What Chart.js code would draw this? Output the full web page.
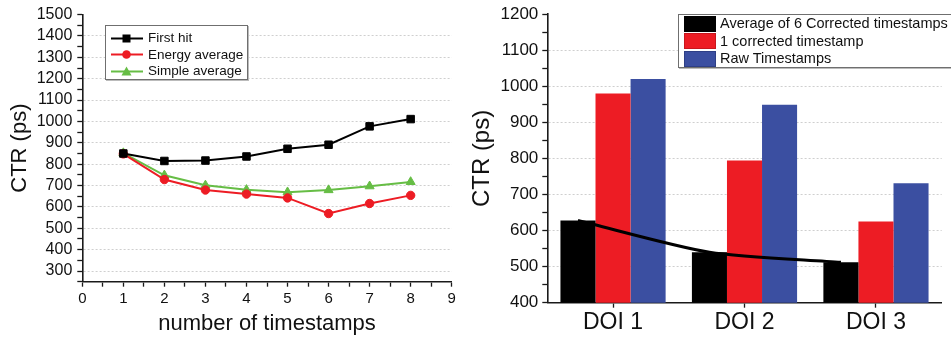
<!DOCTYPE html>
<html>
<head>
<meta charset="utf-8">
<script src="https://cdn.jsdelivr.net/npm/chart.js@4.4.1/dist/chart.umd.min.js"></script>
<style>
  html, body { margin: 0; padding: 0; background: #fff; }
  #wrap { position: relative; width: 951px; height: 338px; background: #fff; overflow: hidden; font-family: "Liberation Sans", Arial, sans-serif; }
  canvas { position: absolute; top: 0; }
  .legend { position: absolute; border: 1px solid #6f6f6f; background: #fff; box-sizing: border-box; box-shadow: 1px 1px 0 #bbb; color: #111; }
  .legend .row { display: flex; align-items: center; white-space: nowrap; }
  #leg1 { left: 105px; top: 25px; width: 143px; height: 55px; padding: 4px 0 0 4px; font-size: 13.5px; }
  #leg1 .row { height: 16.5px; line-height: 16.5px; }
  #leg1 svg { margin-right: 3px; }
  #leg2 { left: 678px; top: 14px; width: 274px; height: 54px; padding: 0 0 0 5px; font-size: 14.5px; }
  #leg2 .row { height: 17.5px; line-height: 17.5px; }
  #leg2 .sw { width: 32px; height: 16px; margin-right: 4px; box-sizing: border-box; }
</style>
</head>
<body>
<div id="wrap">
  <canvas id="c1" width="470" height="338" style="left:0px;width:470px;height:338px"></canvas>
  <canvas id="c2" width="481" height="338" style="left:470px;width:481px;height:338px"></canvas>
  <div id="leg1" class="legend"></div>
  <div id="leg2" class="legend"></div>
</div>
<script>
// ---------- data: left chart ----------
const timestampCounts = [1, 2, 3, 4, 5, 6, 7, 8];
const firstHit      = [850, 815, 817, 836, 872, 891, 977, 1011];
const energyAverage = [848, 728, 679, 660, 642, 569, 616, 654];
const simpleAverage = [852, 748, 701, 680, 669, 679, 697, 717];
const leftSeriesNames = ['First hit', 'Energy average', 'Simple average'];

// ---------- data: right chart ----------
const doiLabels = ['DOI 1', 'DOI 2', 'DOI 3'];
const avgSixCorrected = [628, 540, 512];
const oneCorrected    = [980, 794, 625];
const rawTimestamps   = [1020, 949, 731];
const rightSeriesNames = ['Average of 6 Corrected timestamps', '1 corrected timestamp', 'Raw Timestamps'];

// ---------- styles ----------
const FONT = '"Liberation Sans", Arial, sans-serif';
const BLACK = '#000000', RED = '#ED1C24', GREEN = '#66BD45', BLUE = '#3B4FA1';
const AXIS = '#1a1a1a', GRID = '#cfcfcf', TXT = '#111111';

Chart.defaults.font.family = FONT;
Chart.defaults.color = TXT;

function pts(xs, ys) { return xs.map((x, i) => ({ x: x, y: ys[i] })); }

// ---------- left chart ----------
const leftDatasets = [
  { label: leftSeriesNames[0], data: pts(timestampCounts, firstHit), borderColor: BLACK, backgroundColor: BLACK, pointStyle: 'rect', pointRadius: 5.3 },
  { label: leftSeriesNames[1], data: pts(timestampCounts, energyAverage), borderColor: RED, backgroundColor: RED, pointStyle: 'circle', pointRadius: 4.2 },
  { label: leftSeriesNames[2], data: pts(timestampCounts, simpleAverage), borderColor: GREEN, backgroundColor: GREEN, pointStyle: 'triangle', pointRadius: 5.2 }
].map(d => Object.assign(d, { borderWidth: 2, pointBorderWidth: 1, tension: 0, clip: false }));

const Y1MIN = 250, Y1MAX = 1500;
new Chart(document.getElementById('c1'), {
  type: 'line',
  data: { datasets: leftDatasets },
  options: {
    responsive: false, animation: false, devicePixelRatio: 1,
    layout: { padding: { left: 0, right: 18.3, top: 10, bottom: 0 } },
    plugins: { legend: { display: false }, tooltip: { enabled: false } },
    scales: {
      x: {
        type: 'linear', min: 0, max: 9,
        ticks: { stepSize: 0.5, autoSkip: false, maxRotation: 0, padding: 3, color: TXT,
                 font: { size: 15 }, callback: v => Number.isInteger(v) ? String(v) : '' },
        grid: { drawOnChartArea: false, tickLength: 5, tickColor: AXIS, tickWidth: 1.3 },
        border: { color: AXIS, width: 1.6 },
        title: { display: true, text: 'number of timestamps', color: TXT, font: { size: 22, lineHeight: 1 }, padding: { top: 0, bottom: 3 } },
        afterFit: s => { s.height = 56.3; }
      },
      y: {
        min: Y1MIN, max: Y1MAX,
        ticks: { stepSize: 50, autoSkip: false, padding: 5, color: TXT, font: { size: 16 },
                 callback: v => (v % 100 === 0) ? String(v) : '' },
        grid: { tickLength: 5, tickColor: AXIS, tickWidth: 1.3, lineWidth: 1,
                color: c => (c.tick && c.tick.value % 100 === 0 && c.tick.value > Y1MIN && c.tick.value < Y1MAX) ? GRID : 'rgba(0,0,0,0)' },
        border: { color: AXIS, width: 1.6, dash: [2, 2] },
        title: { display: true, text: 'CTR (ps)', color: TXT, font: { size: 22, lineHeight: 1 }, padding: { top: 9, bottom: 0 } },
        afterFit: s => { s.width = 82.3; }
      }
    }
  }
});

// ---------- right chart ----------
const CAT_PCT = 0.8, BAR_PCT = 1.0;
const nBars = 3;
const blackBarCentre = -CAT_PCT / 2 + (CAT_PCT / nBars) / 2; // centre of first bar inside its category
const catPts = vals => vals.map((v, i) => ({ x: i, y: v }));
const rightDatasets = [
  { type: 'line', label: 'trend', order: 0,
    data: avgSixCorrected.map((v, i) => ({ x: i + blackBarCentre, y: v })),
    borderColor: BLACK, borderWidth: 3, pointRadius: 0, tension: 0.25, fill: false },
  { label: rightSeriesNames[0], data: catPts(avgSixCorrected), backgroundColor: BLACK, borderColor: '#000', order: 1 },
  { label: rightSeriesNames[1], data: catPts(oneCorrected), backgroundColor: RED, borderColor: '#c8161d', order: 1 },
  { label: rightSeriesNames[2], data: catPts(rawTimestamps), backgroundColor: BLUE, borderColor: '#2e3f86', order: 1 }
];
rightDatasets.slice(1).forEach(d => Object.assign(d, { categoryPercentage: CAT_PCT, barPercentage: BAR_PCT, borderWidth: 0 }));

const Y2MIN = 400, Y2MAX = 1200;
new Chart(document.getElementById('c2'), {
  type: 'bar',
  data: { datasets: rightDatasets },
  options: {
    responsive: false, animation: false, devicePixelRatio: 1,
    layout: { padding: { left: 0, right: 9.3, top: 12.7, bottom: 0 } },
    plugins: { legend: { display: false }, tooltip: { enabled: false } },
    scales: {
      x: {
        type: 'linear', min: -0.5, max: doiLabels.length - 0.5, offset: false,
        afterBuildTicks: s => { s.ticks = doiLabels.map((_, i) => ({ value: i })); },
        ticks: { padding: 1, color: TXT, font: { size: 23 }, maxRotation: 0, autoSkip: false,
                 callback: v => doiLabels[v] !== undefined ? doiLabels[v] : '' },
        grid: { offset: false, drawOnChartArea: false, tickLength: 5, tickColor: AXIS, tickWidth: 1.3 },
        border: { color: AXIS, width: 1.6 },
        afterFit: s => { s.height = 35.3; }
      },
      y: {
        min: Y2MIN, max: Y2MAX,
        ticks: { stepSize: 50, autoSkip: false, padding: 4, color: TXT, font: { size: 17 },
                 callback: v => (v % 100 === 0) ? String(v) : '' },
        grid: { tickLength: 5, tickColor: AXIS, tickWidth: 1.3, lineWidth: 1,
                color: c => (c.tick && c.tick.value % 100 === 0 && c.tick.value > Y2MIN && c.tick.value < Y2MAX) ? GRID : 'rgba(0,0,0,0)' },
        border: { color: AXIS, width: 1.6, dash: [2, 2] },
        title: { display: true, text: 'CTR (ps)', color: TXT, font: { size: 24, lineHeight: 1 }, padding: { top: 0, bottom: 0 } },
        afterFit: s => { s.width = 77.3; }
      }
    }
  }
});

// ---------- HTML legends (real text) ----------
function markerSvg(color, style) {
  let m = '';
  if (style === 'rect') m = `<rect x="12.5" y="2.5" width="8" height="8" fill="${color}"/>`;
  else if (style === 'circle') m = `<circle cx="16.5" cy="6.5" r="4.3" fill="${color}"/>`;
  else m = `<polygon points="16.5,1.5 21.5,10.5 11.5,10.5" fill="${color}"/>`;
  return `<svg width="35" height="13" viewBox="0 0 35 13"><line x1="1" y1="6.5" x2="33" y2="6.5" stroke="${color}" stroke-width="2"/>${m}</svg>`;
}
const leg1 = document.getElementById('leg1');
leftDatasets.forEach(d => {
  const r = document.createElement('div');
  r.className = 'row';
  r.innerHTML = markerSvg(d.borderColor, d.pointStyle) + '<span></span>';
  r.querySelector('span').textContent = d.label;
  leg1.appendChild(r);
});
const leg2 = document.getElementById('leg2');
rightDatasets.slice(1).forEach(d => {
  const r = document.createElement('div');
  r.className = 'row';
  const sw = document.createElement('div');
  sw.className = 'sw';
  sw.style.background = d.backgroundColor;
  sw.style.border = '1px solid ' + d.borderColor;
  const t = document.createElement('span');
  t.textContent = d.label;
  r.appendChild(sw); r.appendChild(t);
  leg2.appendChild(r);
});
</script>
</body>
</html>
